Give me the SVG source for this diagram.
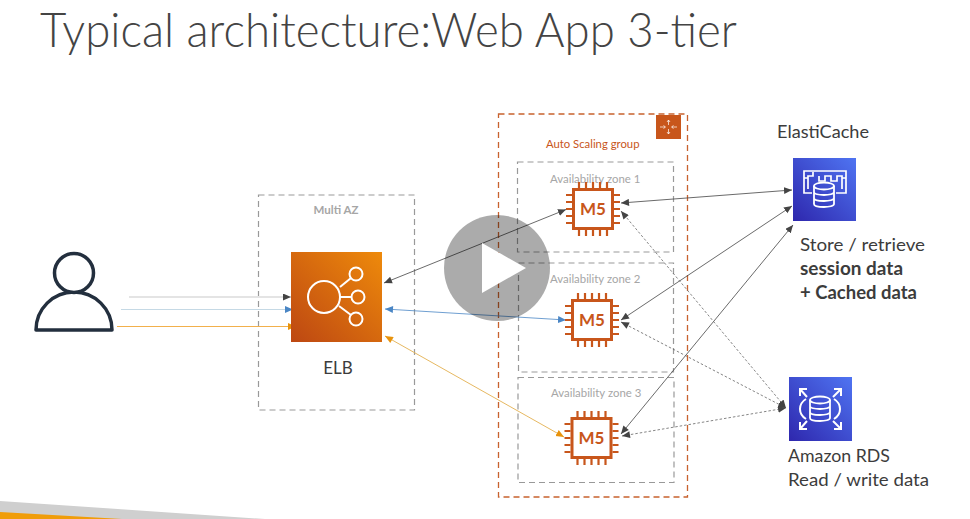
<svg xmlns="http://www.w3.org/2000/svg" width="970" height="519" viewBox="0 0 970 519">
<style>
text{font-family:Lato,"Open Sans","Liberation Sans",sans-serif;fill:#3c3c3c}
.title{font-size:47px;font-weight:300;fill:#444}
.lbl{font-size:18px}
.b{font-weight:700}
.az{font-size:11.400px;fill:#a6a6a6}
.m5{font-size:17px;font-weight:700;fill:#c8561b;text-anchor:middle}
.box{fill:none;stroke:#999;stroke-width:1.2;stroke-dasharray:6 4}
.asg{fill:none;stroke:#c8622e;stroke-width:1.3;stroke-dasharray:6 4}
.w{fill:none;stroke:#fff;stroke-width:2}
.w1{fill:none;stroke:#fff;stroke-width:1.700}
.k{fill:none;stroke:#444;stroke-width:.8;marker-start:url(#as);marker-end:url(#ae)}
.d{fill:none;stroke:#666;stroke-width:.8;stroke-dasharray:2.5 2;marker-start:url(#as);marker-end:url(#ae)}
</style>
<defs>
<linearGradient id="go" x1="0" y1="1" x2="1" y2="0"><stop offset="0" stop-color="#bd4712"/><stop offset="1" stop-color="#ee8a0b"/></linearGradient>
<linearGradient id="gb" x1="0" y1="1" x2="1" y2="0"><stop offset="0" stop-color="#2e27ad"/><stop offset="1" stop-color="#4f74f2"/></linearGradient>
<marker id="ae" markerWidth="10" markerHeight="8" refX="8" refY="3.5" orient="auto" markerUnits="userSpaceOnUse"><path d="M0 0L8 3.5L0 7Z" fill="#444"/></marker>
<marker id="as" markerWidth="10" markerHeight="8" refX="0" refY="3.5" orient="auto" markerUnits="userSpaceOnUse"><path d="M8 0L0 3.5L8 7Z" fill="#444"/></marker>
<marker id="be" markerWidth="10" markerHeight="8" refX="8" refY="3.5" orient="auto" markerUnits="userSpaceOnUse"><path d="M0 0L8 3.5L0 7Z" fill="#4a86c5"/></marker>
<marker id="bs" markerWidth="10" markerHeight="8" refX="0" refY="3.5" orient="auto" markerUnits="userSpaceOnUse"><path d="M8 0L0 3.5L8 7Z" fill="#4a86c5"/></marker>
<marker id="oe" markerWidth="10" markerHeight="8" refX="8" refY="3.5" orient="auto" markerUnits="userSpaceOnUse"><path d="M0 0L8 3.5L0 7Z" fill="#e8930c"/></marker>
<marker id="os" markerWidth="10" markerHeight="8" refX="0" refY="3.5" orient="auto" markerUnits="userSpaceOnUse"><path d="M8 0L0 3.5L8 7Z" fill="#e8930c"/></marker>
<g id="chip" fill="none" stroke="#c8561b">
<rect x="-19.500" y="-19.500" width="39" height="39" stroke-width="3" fill="#fff"/>
<path stroke-width="2.200" d="M-14-21v-6M-7-21v-6M0-21v-6M7-21v-6M14-21v-6M-14 21v6M-7 21v6M0 21v6M7 21v6M14 21v6M-21-14h-6M-21-7h-6M-21 0h-6M-21 7h-6M-21 14h-6M21-14h6M21-7h6M21 0h6M21 7h6M21 14h6"/>
</g>
<g id="db" fill="none" stroke="#fff" stroke-width="1.800">
<ellipse cx="0" cy="-9" rx="10" ry="3.500"/>
<path d="M-10-9V9C-10 13 10 13 10 9V-9M-10-3C-10 1 10 1 10-3M-10 3C-10 7 10 7 10 3"/>
</g>
</defs>
<rect width="970" height="519" fill="#fff"/>
<text class="title" x="40" y="47" textLength="697" lengthAdjust="spacingAndGlyphs">Typical architecture:<tspan dx="-12"> Web App 3-tier</tspan></text>
<polygon points="0,501 265,519 0,519" fill="#cfcfcf"/>
<polygon points="0,512 122,519 0,519" fill="#f09d0a"/>

<g id="multi-az">
<rect class="box" x="258.500" y="195" width="156" height="215"/>
<text x="336" y="214" text-anchor="middle" style="font-size:11.500px;font-weight:700;fill:#a6a6a6">Multi AZ</text>
</g>
<g id="auto-scaling-group">
<rect class="asg" x="498.500" y="114" width="189" height="383"/>
<rect x="656" y="115" width="25" height="24" fill="#c8561b"/>
<path d="M668.500 120v5M668.500 129v5M660 127h5M672 127h5M667 122l1.500-2 1.500 2M667 132l1.500 2 1.500-2M663.500 125.500l2 1.500-2 1.500M673.500 125.500l-2 1.500 2 1.500" stroke="#fff" stroke-width=".7" fill="none"/>
<text x="546" y="148" style="font-size:11.300px;fill:#c8561b">Auto Scaling group</text>
</g>
<g id="az1"><rect class="box" x="517.500" y="162" width="156" height="90"/><text class="az" x="550" y="183">Availability zone 1</text></g>
<g id="az2"><rect class="box" x="518.500" y="263" width="155" height="109"/><text class="az" x="550" y="283">Availability zone 2</text></g>
<g id="az3"><rect class="box" x="518" y="377.500" width="156" height="105"/><text class="az" x="551" y="397">Availability zone 3</text></g>

<g id="connectors">
<path d="M129 297H291" stroke="#e4e4e4" stroke-width="2" fill="none" marker-end="url(#ae)"/>
<path d="M121 309.500H293" stroke="#c5d9e5" stroke-width="1" fill="none" marker-end="url(#be)"/>
<path d="M117 326.500H296" stroke="#f2b04c" stroke-width="1.200" fill="none" marker-end="url(#oe)"/>
<path class="k" d="M384 283L566 209.500"/>
<path d="M385 309L566 320" stroke="#4a86c5" stroke-width=".8" fill="none" marker-start="url(#bs)" marker-end="url(#be)"/>
<path d="M385 336L564 437" stroke="#e3b04f" stroke-width=".9" fill="none" marker-start="url(#os)" marker-end="url(#oe)"/>
<path class="k" d="M621 203L792 190"/>
<path class="k" d="M621 320L792 206"/>
<path class="k" d="M621 434L793 225"/>
<path class="d" d="M621 211L786 408"/>
<path class="d" d="M621 322L786 408"/>
<path class="d" d="M622 436L786 408"/>
</g>

<g id="m5-1"><use href="#chip" x="593" y="209"/><text class="m5" x="593" y="215">M5</text></g>
<g id="m5-2"><use href="#chip" x="592" y="320"/><text class="m5" x="592" y="326">M5</text></g>
<g id="m5-3"><use href="#chip" x="591.500" y="438"/><text class="m5" x="591.500" y="444">M5</text></g>

<g id="user" fill="#fff" stroke="#232f3e" stroke-width="3.500" stroke-linejoin="round">
<path d="M36 330A38 38 0 0 1 112 330Z"/>
<circle cx="74" cy="273" r="19.500"/>
</g>

<g id="elb">
<rect x="291" y="252" width="91" height="90" fill="url(#go)"/>
<circle class="w" cx="324" cy="297" r="16"/>
<circle class="w" cx="356" cy="274" r="6.500"/>
<circle class="w" cx="358" cy="297" r="6.500"/>
<circle class="w" cx="356" cy="319" r="6.500"/>
<path class="w" d="M340 287L351 278M340 297H351M339 306L351 315"/>
<text x="338" y="374" text-anchor="middle" style="font-size:17px">ELB</text>
</g>

<g id="elasticache">
<text class="lbl" x="777" y="138" textLength="92" lengthAdjust="spacingAndGlyphs">ElastiCache</text>
<rect x="793" y="158" width="63" height="63" fill="url(#gb)"/>
<path class="w1" d="M812 193H804V171H846V193H836M808 189V176H813V172M819 176V181H825V176H831V181H837V176H842V189M804 178H808M846 178H842"/>
<use href="#db" x="824" y="195"/>
<text class="lbl" x="800" y="251" textLength="125" lengthAdjust="spacingAndGlyphs">Store / retrieve</text>
<text class="lbl b" x="800" y="275" textLength="103" lengthAdjust="spacingAndGlyphs">session data</text>
<text class="lbl b" x="800" y="299" textLength="117" lengthAdjust="spacingAndGlyphs">+ Cached data</text>
</g>

<g id="rds">
<rect x="789" y="377" width="63" height="64" fill="url(#gb)"/>
<path class="w" d="M800 389L807 397M800 396V389H807M841 389L833 397M834 389H841V396M800 429L807 421M800 422V429H807M841 429L833 421M834 429H841V422M806 399C798 404 798 414 806 419M834 399C842 404 842 414 834 419"/>
<use href="#db" x="820" y="409"/>
<text class="lbl" x="788" y="462" textLength="102" lengthAdjust="spacingAndGlyphs">Amazon RDS</text>
<text class="lbl" x="788" y="486" textLength="141" lengthAdjust="spacingAndGlyphs">Read / write data</text>
</g>

<g id="play">
<circle cx="497" cy="268" r="53" fill="#000" fill-opacity=".33"/>
<polygon points="482,243 526,268 482,293" fill="#fff"/>
</g>
</svg>
